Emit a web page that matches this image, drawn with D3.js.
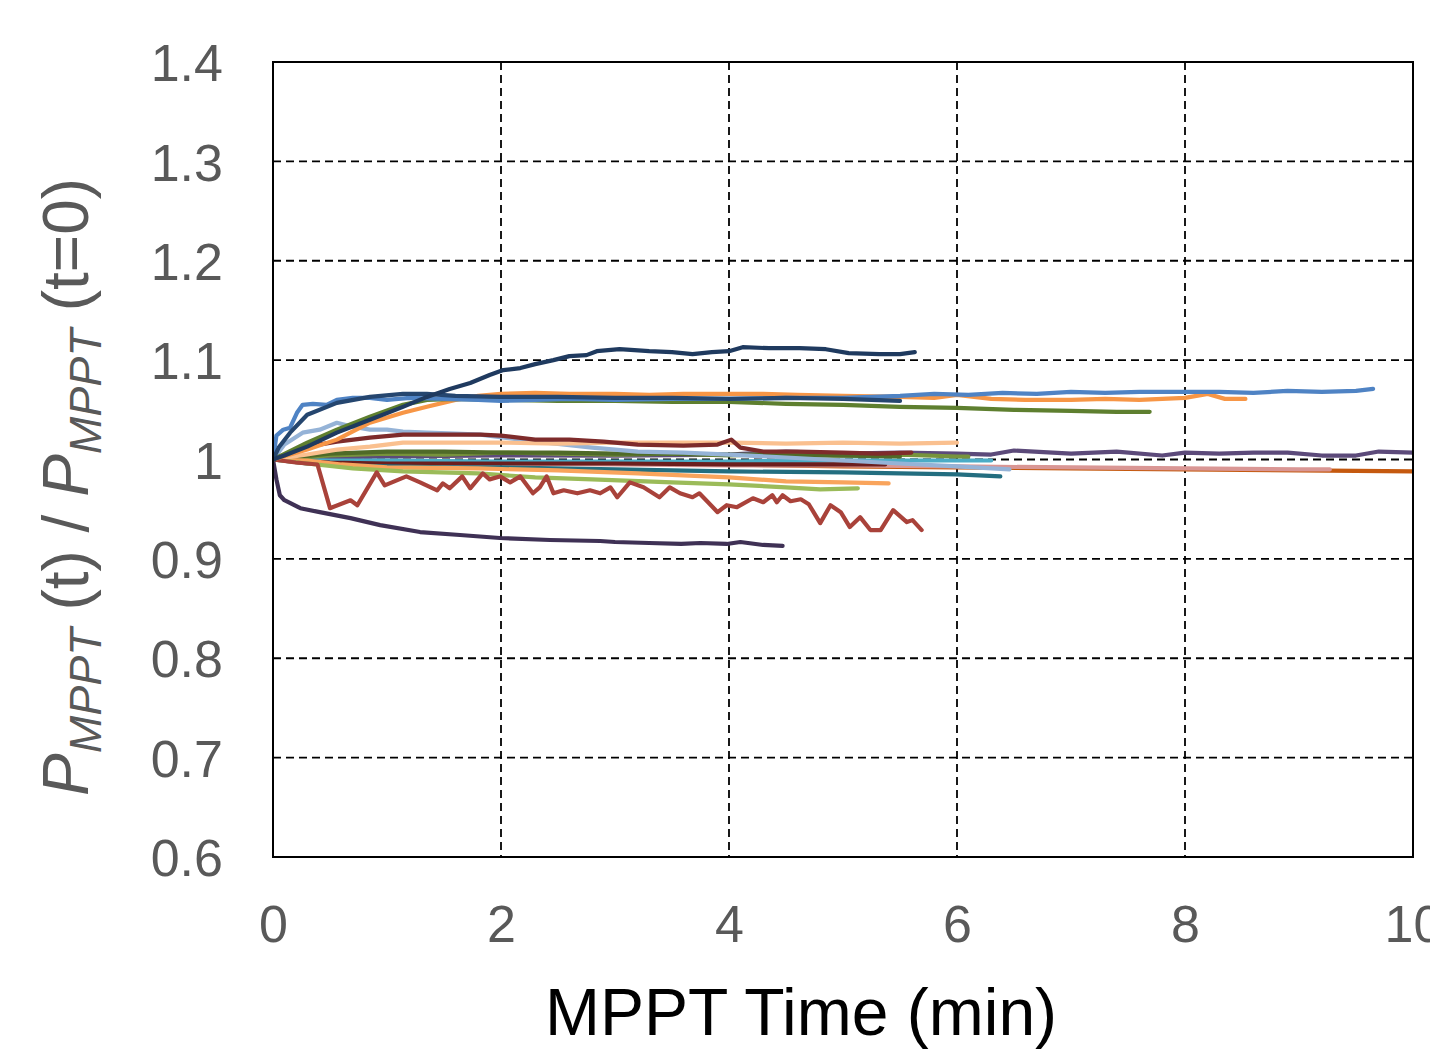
<!DOCTYPE html>
<html>
<head>
<meta charset="utf-8">
<script src="https://cdn.jsdelivr.net/npm/d3@7"></script>
<style>
  html, body { margin: 0; padding: 0; background: #fff; }
  svg { display: block; font-family: "Liberation Sans", Arial, sans-serif; }
</style>
</head>
<body>
<svg id="chart" width="1430" height="1052"></svg>
<script>
// ---------- data ----------
const xTicks = [0, 2, 4, 6, 8, 10];
const yTicks = [0.6, 0.7, 0.8, 0.9, 1, 1.1, 1.2, 1.3, 1.4];
const xTickLabels = ["0", "2", "4", "6", "8", "10"];
const yTickLabels = ["0.6", "0.7", "0.8", "0.9", "1", "1.1", "1.2", "1.3", "1.4"];

const brownOrange = [[0,1.000],[0.5,0.999],[1,0.998],[2,0.997],[3,0.996],[4,0.995],[5,0.993],[6,0.992],[7,0.991],[8,0.990],[9,0.989],[10,0.988]];
const pink = [[0,1.000],[0.5,0.998],[1,0.997],[2,0.996],[3,0.995],[4,0.994],[5,0.994],[6,0.993],[7,0.992],[8,0.991],[9,0.990],[9.27,0.990]];
const purpleUp = [[0,1.000],[0.5,1.002],[1,1.003],[2,1.004],[3,1.004],[4,1.005],[4.5,1.008],[5,1.006],[5.5,1.007],[6,1.006],[6.3,1.005],[6.5,1.009],[7,1.006],[7.4,1.008],[7.8,1.004],[8,1.007],[8.3,1.006],[8.6,1.007],[8.9,1.007],[9.2,1.004],[9.5,1.004],[9.7,1.008],[10,1.007]];
const lightTeal = [[0,1.000],[0.5,0.999],[1,0.999],[2,0.998],[3,0.998],[4,0.998],[5,0.999],[5.5,0.999],[6,0.999],[6.3,0.999]];
const greenMid = [[0,1.000],[0.5,1.004],[1,1.006],[1.5,1.005],[2,1.007],[2.5,1.006],[3,1.005],[3.5,1.006],[4,1.004],[4.5,1.006],[5,1.004],[5.5,1.005],[6,1.003],[6.1,1.003]];
const greenDark = [[0,1.000],[0.5,1.006],[1,1.008],[1.5,1.008],[2,1.007],[2.5,1.007],[3,1.006],[3.5,1.006],[4,1.005],[4.5,1.004],[5,1.004],[5.5,1.003]];
const maroon = [[0,1.000],[0.5,0.997],[1,0.996],[1.5,0.996],[2,0.996],[3,0.996],[4,0.995],[5,0.995],[5.37,0.995]];
const tealDark = [[0,1.000],[0.3,0.996],[0.6,0.994],[1,0.993],[1.5,0.992],[2,0.992],[3,0.990],[4,0.988],[5,0.987],[6,0.985],[6.38,0.983]];
const orangeLow = [[0,1.000],[0.3,0.999],[0.6,0.995],[1,0.992],[1.8,0.991],[2.5,0.989],[3.2,0.986],[4,0.982],[4.5,0.978],[5,0.977],[5.4,0.976]];
const lightGreen = [[0,1.000],[0.3,0.996],[0.7,0.991],[1.14,0.988],[1.8,0.986],[2.3,0.982],[2.8,0.980],[3.5,0.977],[4,0.975],[4.5,0.972],[4.8,0.970],[5.13,0.971]];
const lightBlue = [[0,1.000],[0.1,1.015],[0.26,1.027],[0.41,1.030],[0.56,1.037],[0.7,1.033],[0.85,1.030],[1,1.030],[1.14,1.028],[1.35,1.027],[1.6,1.026],[1.82,1.025],[2.1,1.021],[2.4,1.017],[2.8,1.012],[3.2,1.008],[3.6,1.007],[4,1.005],[4.5,1.002],[5,0.999],[5.5,0.996],[6,0.993],[6.46,0.990]];
const peach = [[0,1.000],[0.3,1.005],[0.56,1.010],[0.85,1.013],[1.14,1.017],[1.5,1.017],[2,1.017],[2.5,1.016],[3,1.017],[3.5,1.017],[4,1.017],[4.5,1.016],[5,1.017],[5.5,1.016],[6,1.017]];
const darkRed = [[0,1.000],[0.3,1.013],[0.56,1.018],[0.85,1.022],[1.14,1.025],[1.5,1.025],[1.82,1.025],[2,1.024],[2.3,1.020],[2.6,1.020],[2.9,1.018],[3.2,1.015],[3.6,1.014],[3.9,1.015],[4.02,1.020],[4.1,1.012],[4.3,1.008],[4.6,1.008],[5,1.007],[5.3,1.006],[5.6,1.007]];
const redJag = [[0,1.000],[0.2,0.997],[0.39,0.995],[0.5,0.951],[0.68,0.959],[0.74,0.954],[0.91,0.987],[0.98,0.974],[1.17,0.983],[1.29,0.977],[1.44,0.969],[1.49,0.976],[1.55,0.971],[1.66,0.983],[1.73,0.971],[1.84,0.986],[1.9,0.980],[1.99,0.983],[2.08,0.977],[2.17,0.983],[2.28,0.966],[2.34,0.972],[2.4,0.983],[2.46,0.966],[2.55,0.969],[2.67,0.966],[2.78,0.969],[2.87,0.966],[2.96,0.972],[3.02,0.962],[3.13,0.977],[3.25,0.972],[3.39,0.962],[3.48,0.972],[3.57,0.966],[3.68,0.962],[3.74,0.966],[3.9,0.947],[3.98,0.954],[4.07,0.952],[4.21,0.961],[4.3,0.957],[4.38,0.964],[4.42,0.957],[4.47,0.964],[4.54,0.958],[4.63,0.960],[4.7,0.955],[4.8,0.936],[4.89,0.954],[4.98,0.947],[5.06,0.932],[5.15,0.942],[5.24,0.929],[5.33,0.929],[5.44,0.949],[5.56,0.937],[5.61,0.939],[5.69,0.929]];
const purpleLow = [[0,1.000],[0.03,0.980],[0.06,0.964],[0.1,0.959],[0.24,0.951],[0.41,0.947],[0.68,0.941],[0.94,0.934],[1.29,0.927],[1.64,0.924],[1.99,0.921],[2.43,0.919],[2.87,0.918],[3.0,0.917],[3.3,0.916],[3.58,0.915],[3.75,0.916],[3.98,0.915],[4.1,0.917],[4.3,0.914],[4.47,0.913]];
const orangeRise = [[0,1.000],[0.3,1.010],[0.56,1.020],[0.85,1.037],[1.14,1.047],[1.35,1.053],[1.6,1.060],[1.8,1.064],[2,1.066],[2.3,1.067],[2.6,1.066],[3,1.066],[3.3,1.065],[3.6,1.066],[4,1.066],[4.3,1.066],[4.6,1.065],[5,1.064],[5.5,1.063],[5.8,1.062],[6,1.065],[6.3,1.061],[6.6,1.060],[7,1.060],[7.3,1.061],[7.6,1.060],[8,1.062],[8.2,1.066],[8.35,1.061],[8.53,1.061]];
const greenRise = [[0,1.000],[0.3,1.017],[0.56,1.030],[0.85,1.043],[1.14,1.055],[1.35,1.060],[1.6,1.061],[2,1.060],[2.5,1.059],[3,1.059],[3.5,1.058],[4,1.058],[4.5,1.056],[5,1.055],[5.5,1.053],[6,1.052],[6.5,1.050],[7,1.049],[7.4,1.048],[7.69,1.048]];
const blueRise = [[0,1.000],[0.03,1.024],[0.09,1.030],[0.15,1.032],[0.21,1.047],[0.26,1.055],[0.35,1.056],[0.47,1.055],[0.56,1.060],[0.7,1.062],[0.85,1.062],[1,1.060],[1.2,1.062],[1.5,1.061],[1.8,1.060],[2,1.059],[2.3,1.060],[2.6,1.061],[3,1.060],[3.5,1.061],[4,1.061],[4.5,1.062],[5,1.062],[5.5,1.064],[5.8,1.066],[6.1,1.065],[6.4,1.067],[6.7,1.066],[7,1.068],[7.3,1.067],[7.6,1.068],[8,1.068],[8.3,1.068],[8.6,1.067],[8.9,1.069],[9.2,1.068],[9.5,1.069],[9.65,1.071]];
const navyPlateau = [[0,1.000],[0.05,1.012],[0.15,1.027],[0.3,1.045],[0.56,1.057],[0.85,1.063],[1.14,1.066],[1.35,1.066],[1.6,1.064],[2,1.063],[2.5,1.063],[3,1.062],[3.5,1.062],[4,1.061],[4.5,1.062],[5,1.061],[5.5,1.059]];
const navyRise = [[0,1.000],[0.1,1.004],[0.3,1.013],[0.56,1.027],[0.85,1.040],[1.14,1.053],[1.35,1.063],[1.55,1.071],[1.73,1.077],[1.9,1.085],[2.02,1.090],[2.17,1.092],[2.3,1.096],[2.46,1.100],[2.6,1.104],[2.75,1.105],[2.84,1.109],[3.04,1.111],[3.3,1.109],[3.5,1.108],[3.68,1.106],[3.85,1.108],[4,1.109],[4.12,1.113],[4.35,1.112],[4.62,1.112],[4.85,1.111],[5.05,1.107],[5.32,1.106],[5.5,1.106],[5.63,1.108]];

const seriesData = [brownOrange, pink, purpleUp, lightTeal, greenMid, greenDark, maroon, tealDark, orangeLow, lightGreen, lightBlue, peach, darkRed, redJag, purpleLow, orangeRise, greenRise, blueRise, navyPlateau, navyRise];
const seriesColors = ["#C5590F", "#D99694", "#5C4A7A", "#4BACC6", "#77933C", "#4F6A28", "#6B1E1E", "#236E80", "#F9A45C", "#9BBB59", "#95B3D7", "#FAC08F", "#7E2B2B", "#A9423A", "#3F3155", "#F79646", "#5E7F2F", "#4F83C4", "#25466F", "#1F3A5F"];

// ---------- layout ----------
const pLeft = 273, pRight = 1413, pTop = 62, pBottom = 857;
const svg = d3.select("#chart");
const x = d3.scaleLinear().domain([0, 10]).range([pLeft, pRight]);
const y = d3.scaleLinear().domain([0.6, 1.4]).range([pBottom, pTop]);

// grid
const grid = svg.append("g");
grid.selectAll("line.v").data(xTicks.filter(d => d > 0 && d < 10)).enter().append("line")
  .attr("x1", d => x(d)).attr("x2", d => x(d)).attr("y1", pTop).attr("y2", pBottom)
  .attr("stroke", "#000").attr("stroke-width", 1.8).attr("stroke-dasharray", "8,5");
grid.selectAll("line.h").data(yTicks.filter(d => d > 0.6 && d < 1.4)).enter().append("line")
  .attr("y1", d => y(d)).attr("y2", d => y(d)).attr("x1", pLeft).attr("x2", pRight)
  .attr("stroke", "#000").attr("stroke-width", 1.8).attr("stroke-dasharray", "8,5");

// lines
const line = d3.line().x(d => x(d[0])).y(d => y(d[1])).curve(d3.curveLinear);
svg.append("clipPath").attr("id", "clip").append("rect")
  .attr("x", pLeft).attr("y", pTop).attr("width", pRight - pLeft).attr("height", pBottom - pTop);
svg.append("g").attr("clip-path", "url(#clip)")
  .selectAll("path").data(seriesData).enter().append("path")
  .attr("d", line).attr("fill", "none")
  .attr("stroke", (d, i) => seriesColors[i])
  .attr("stroke-width", 4.2).attr("stroke-linejoin", "round").attr("stroke-linecap", "round");

// frame
svg.append("rect").attr("x", pLeft).attr("y", pTop).attr("width", pRight - pLeft).attr("height", pBottom - pTop)
  .attr("fill", "none").attr("stroke", "#000").attr("stroke-width", 2);

// axes (labels only)
const xAxis = d3.axisBottom(x).tickValues(xTicks).tickFormat((d, i) => xTickLabels[i]).tickSize(0).tickPadding(0);
const gx = svg.append("g").attr("transform", `translate(0,${pBottom})`).call(xAxis);
gx.select(".domain").remove();
gx.selectAll("text").attr("font-size", 52).attr("fill", "#595959")
  .attr("font-family", "'Liberation Sans', Arial, sans-serif").attr("dy", null).attr("y", 85);

const yAxis = d3.axisLeft(y).tickValues(yTicks).tickFormat((d, i) => yTickLabels[i]).tickSize(0).tickPadding(0);
const gy = svg.append("g").attr("transform", `translate(${pLeft},0)`).call(yAxis);
gy.select(".domain").remove();
gy.selectAll("text").attr("font-size", 52).attr("fill", "#595959")
  .attr("font-family", "'Liberation Sans', Arial, sans-serif").attr("x", -50).attr("dy", "0.36em");

// x title
svg.append("text").attr("x", 801).attr("y", 1035).attr("text-anchor", "middle")
  .attr("font-size", 66).attr("fill", "#000").text("MPPT Time (min)");

// y title
const yt = svg.append("text").attr("transform", "translate(88,487) rotate(-90)")
  .attr("text-anchor", "middle").attr("font-size", 64).attr("fill", "#595959");
yt.append("tspan").attr("font-style", "italic").text("P");
yt.append("tspan").attr("font-style", "italic").attr("font-size", 45).attr("dy", 13).text("MPPT");
yt.append("tspan").attr("dy", -13).text(" (t) / ");
yt.append("tspan").attr("font-style", "italic").text("P");
yt.append("tspan").attr("font-style", "italic").attr("font-size", 45).attr("dy", 13).text("MPPT");
yt.append("tspan").attr("dy", -13).text(" (t=0)");
</script>
</body>
</html>
